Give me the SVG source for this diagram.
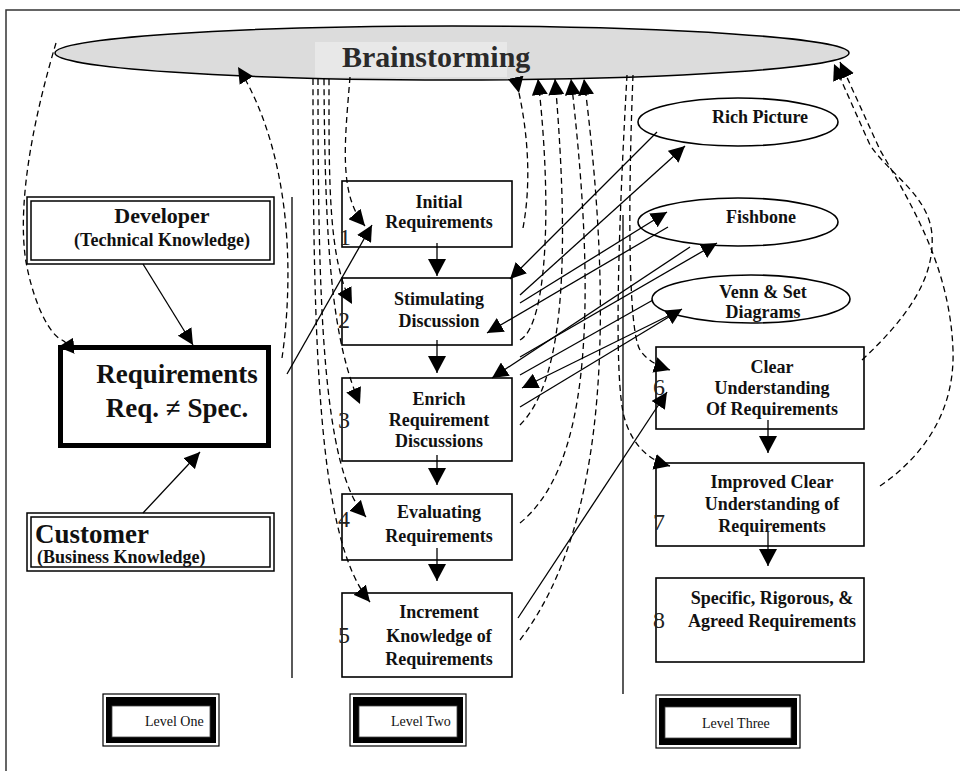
<svg xmlns="http://www.w3.org/2000/svg" width="960" height="771" viewBox="0 0 960 771">
<style>
  .bx{fill:#fff;stroke:#000;stroke-width:1.6}
  .t{font-family:"Liberation Serif","Times New Roman",serif;font-weight:bold;font-size:18px;fill:#111;text-anchor:middle}
  .n{font-family:"Liberation Serif","Times New Roman",serif;font-size:24px;fill:#222}
  .ln{fill:none;stroke:#000;stroke-width:1.3}
  .ds{fill:none;stroke:#000;stroke-width:1.3;stroke-dasharray:6 4}
  .lv{font-family:"Liberation Serif","Times New Roman",serif;font-size:14px;fill:#111}
  .el{fill:#fff;stroke:#000;stroke-width:1.6}
</style>
<defs>
  <marker id="ah" markerUnits="userSpaceOnUse" markerWidth="16" markerHeight="16" refX="16" refY="8" orient="auto" viewBox="0 0 16 16">
    <path d="M0,0 L16,8 L0,16 z" fill="#000"/>
  </marker>
  <marker id="ahb" markerUnits="userSpaceOnUse" markerWidth="18" markerHeight="18" refX="17" refY="9" orient="auto" viewBox="0 0 18 18">
    <path d="M0,0 L17,9 L0,18 z" fill="#000"/>
  </marker>
</defs>

<!-- outer frame -->
<rect x="6" y="10" width="1000" height="800" fill="#fff" stroke="#333" stroke-width="1.5"/>

<!-- column dividers -->
<g id="dividers" stroke="#000" stroke-width="1.3">
  <line x1="292" y1="197" x2="292" y2="678"/>
  <line x1="623" y1="215" x2="623" y2="694"/>
</g>

<!-- brainstorming -->
<g id="brainstorming">
  <ellipse cx="452" cy="53" rx="397" ry="27" fill="#dcdcdc" stroke="#000" stroke-width="1.5"/>
  <rect x="315" y="42" width="192" height="35" fill="#e8e8e8"/>
  <text x="342" y="67" font-family="Liberation Serif, Times New Roman, serif" font-weight="bold" font-size="30" fill="#2a2a2a">Brainstorming</text>
</g>

<!-- level one nodes -->
<g id="developer">
  <rect x="27" y="197" width="247" height="67" fill="#fff" stroke="#000" stroke-width="1.5"/>
  <rect x="31" y="201" width="239" height="59" fill="none" stroke="#000" stroke-width="1.5"/>
  <text class="t" x="162" y="223" style="font-size:22px">Developer</text>
  <text class="t" x="162" y="246">(Technical Knowledge)</text>
</g>
<g id="requirements">
  <rect x="60.5" y="347.5" width="208" height="98" fill="#fff" stroke="#000" stroke-width="5"/>
  <text class="t" x="177" y="383" style="font-size:27px">Requirements</text>
  <text class="t" x="177" y="417" style="font-size:27px">Req. ≠ Spec.</text>
</g>
<g id="customer">
  <rect x="27" y="513" width="247" height="58" fill="#fff" stroke="#000" stroke-width="1.5"/>
  <rect x="31" y="517" width="239" height="50" fill="none" stroke="#000" stroke-width="1.5"/>
  <text class="t" x="35" y="543" style="font-size:27px;text-anchor:start">Customer</text>
  <text class="t" x="37" y="563" style="font-size:18px;text-anchor:start">(Business Knowledge)</text>
</g>

<!-- level two nodes -->
<g id="step1">
  <rect class="bx" x="342" y="181" width="170" height="66"/>
  <text class="t" x="439" y="208">Initial</text>
  <text class="t" x="439" y="228">Requirements</text>
  <text class="n" x="339" y="245" fill="#777">1</text>
</g>
<g id="step2">
  <rect class="bx" x="342" y="278" width="170" height="67"/>
  <text class="t" x="439" y="305">Stimulating</text>
  <text class="t" x="439" y="327">Discussion</text>
  <text class="n" x="338" y="328">2</text>
</g>
<g id="step3">
  <rect class="bx" x="342" y="378" width="170" height="83"/>
  <text class="t" x="439" y="405">Enrich</text>
  <text class="t" x="439" y="426">Requirement</text>
  <text class="t" x="439" y="447">Discussions</text>
  <text class="n" x="338" y="428">3</text>
</g>
<g id="step4">
  <rect class="bx" x="342" y="494" width="170" height="66"/>
  <text class="t" x="439" y="518">Evaluating</text>
  <text class="t" x="439" y="542">Requirements</text>
  <text class="n" x="338" y="527">4</text>
</g>
<g id="step5">
  <rect class="bx" x="342" y="593" width="170" height="84"/>
  <text class="t" x="439" y="618">Increment</text>
  <text class="t" x="439" y="642">Knowledge of</text>
  <text class="t" x="439" y="665">Requirements</text>
  <text class="n" x="338" y="643">5</text>
</g>

<!-- level three nodes -->
<g id="step6">
  <rect class="bx" x="656" y="347" width="208" height="82"/>
  <text class="t" x="772" y="373">Clear</text>
  <text class="t" x="772" y="394">Understanding</text>
  <text class="t" x="772" y="415">Of Requirements</text>
  <text class="n" x="653" y="395">6</text>
</g>
<g id="step7">
  <rect class="bx" x="656" y="463" width="208" height="83"/>
  <text class="t" x="772" y="488">Improved Clear</text>
  <text class="t" x="772" y="510">Understanding of</text>
  <text class="t" x="772" y="532">Requirements</text>
  <text class="n" x="653" y="530">7</text>
</g>
<g id="step8">
  <rect class="bx" x="656" y="578" width="208" height="84"/>
  <text class="t" x="772" y="604">Specific, Rigorous, &amp;</text>
  <text class="t" x="772" y="627">Agreed Requirements</text>
  <text class="n" x="653" y="628">8</text>
</g>

<!-- technique ellipses -->
<g id="rich-picture">
  <ellipse class="el" cx="738" cy="122" rx="100" ry="24"/>
  <text class="t" x="760" y="123">Rich Picture</text>
</g>
<g id="fishbone">
  <ellipse class="el" cx="738" cy="222" rx="100" ry="24"/>
  <text class="t" x="761" y="223">Fishbone</text>
</g>
<g id="venn">
  <ellipse class="el" cx="751" cy="299" rx="99" ry="24"/>
  <text class="t" x="763" y="298">Venn &amp; Set</text>
  <text class="t" x="763" y="318">Diagrams</text>
</g>

<!-- level labels -->
<g id="level-one">
  <rect x="103" y="694" width="116" height="52" fill="#fff" stroke="#000" stroke-width="1.2"/>
  <rect x="106" y="697" width="110" height="46" fill="#000"/>
  <rect x="112" y="706" width="98" height="31" fill="#fff" stroke="#444" stroke-width="0.8"/>
  <text class="lv" x="145" y="726">Level One</text>
</g>
<g id="level-two">
  <rect x="350" y="694" width="116" height="52" fill="#fff" stroke="#000" stroke-width="1.2"/>
  <rect x="353" y="697" width="110" height="46" fill="#000"/>
  <rect x="359" y="706" width="98" height="31" fill="#fff" stroke="#444" stroke-width="0.8"/>
  <text class="lv" x="391" y="726">Level Two</text>
</g>
<g id="level-three">
  <rect x="656" y="695" width="144" height="53" fill="#fff" stroke="#000" stroke-width="1.2"/>
  <rect x="659" y="698" width="138" height="47" fill="#000"/>
  <rect x="665" y="707" width="126" height="31" fill="#fff" stroke="#444" stroke-width="0.8"/>
  <text class="lv" x="702" y="728">Level Three</text>
</g>

<!-- connectors -->
<g id="connectors">
  <!-- level one -->
  <line class="ln" x1="143" y1="264" x2="193" y2="345" marker-end="url(#ah)"/>
  <line class="ln" x1="143" y1="513" x2="200" y2="452" marker-end="url(#ah)"/>
  <line class="ln" x1="287" y1="374" x2="372" y2="225" marker-end="url(#ah)"/>
  <path class="ds" d="M56,43 C36,110 16,200 26,262 C34,305 50,335 62,340 C66,342 70,346 58,347" marker-end="url(#ah)"/>
  <path class="ds" d="M282,358 C292,290 296,160 238,67" marker-end="url(#ah)"/>

  <!-- level two flow -->
  <line class="ln" x1="437" y1="243" x2="437" y2="276" marker-end="url(#ahb)"/>
  <line class="ln" x1="437" y1="340" x2="437" y2="373" marker-end="url(#ahb)"/>
  <line class="ln" x1="437" y1="455" x2="437" y2="485" marker-end="url(#ahb)"/>
  <line class="ln" x1="437" y1="548" x2="437" y2="581" marker-end="url(#ahb)"/>

  <!-- level three flow -->
  <line class="ln" x1="768" y1="420" x2="768" y2="453" marker-end="url(#ahb)"/>
  <line class="ln" x1="768" y1="532" x2="768" y2="566" marker-end="url(#ahb)"/>

  <!-- brainstorming feeds into each step -->
  <path class="ds" d="M350,77 C345,140 338,195 365,226" marker-end="url(#ah)"/>
  <path class="ds" d="M329,79 C329,180 328,260 352,304" marker-end="url(#ah)"/>
  <path class="ds" d="M324,79 C325,250 332,340 360,404" marker-end="url(#ah)"/>
  <path class="ds" d="M318,79 C318,300 322,470 366,517" marker-end="url(#ah)"/>
  <path class="ds" d="M313,79 C313,350 318,540 370,602" marker-end="url(#ah)"/>

  <!-- steps feed back into brainstorming -->
  <path class="ds" d="M519,93 C527,130 532,180 523,228" marker-start="url(#ah)"/>
  <path class="ds" d="M520,340 C548,325 552,200 538,79" marker-end="url(#ah)"/>
  <path class="ds" d="M520,425 C560,385 572,280 555,79" marker-end="url(#ah)"/>
  <path class="ds" d="M520,523 C585,470 600,330 571,79" marker-end="url(#ah)"/>
  <path class="ds" d="M520,640 C612,520 612,300 584,79" marker-end="url(#ah)"/>

  <!-- brainstorming into level three -->
  <path class="ds" d="M633,75 C628,200 628,330 640,350 C645,358 655,365 670,370" marker-end="url(#ah)"/>
  <path class="ds" d="M627,75 C620,200 612,380 625,420 C633,445 648,460 670,466" marker-end="url(#ah)"/>
  <path class="ds" d="M862,360 C905,320 935,280 932,235 C929,195 890,175 870,145 L834,64" marker-end="url(#ah)"/>
  <path class="ds" d="M880,486 C925,455 955,410 953,350 C950,270 915,210 880,150 L840,62" marker-end="url(#ah)"/>

  <!-- techniques exchange -->
  <line class="ln" x1="657" y1="132" x2="510" y2="279" marker-end="url(#ah)"/>
  <line class="ln" x1="520" y1="295" x2="685" y2="146" marker-end="url(#ah)"/>
  <line class="ln" x1="520" y1="303" x2="667" y2="212" marker-end="url(#ah)"/>
  <line class="ln" x1="668" y1="227" x2="487" y2="333" marker-end="url(#ah)"/>
  <line class="ln" x1="520" y1="357" x2="717" y2="243" marker-end="url(#ah)"/>
  <line class="ln" x1="690" y1="247" x2="492" y2="378" marker-end="url(#ah)"/>
  <line class="ln" x1="653" y1="300" x2="520" y2="375"/>
  <line class="ln" x1="668" y1="316" x2="522" y2="388" marker-end="url(#ah)"/>
  <line class="ln" x1="520" y1="407" x2="682" y2="309" marker-end="url(#ah)"/>
  <line class="ln" x1="518" y1="618" x2="667" y2="392" marker-end="url(#ah)"/>
</g>
</svg>
